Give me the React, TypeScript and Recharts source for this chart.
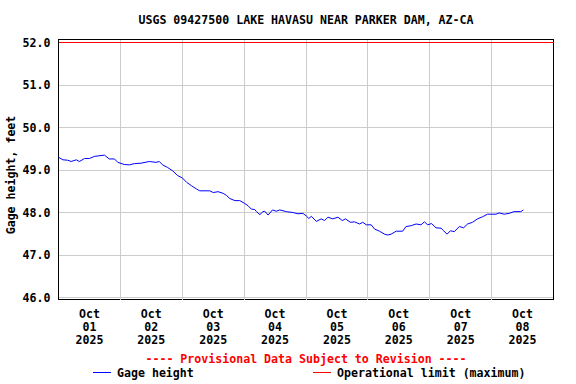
import React from 'react';
import {
  LineChart, Line, XAxis, YAxis, CartesianGrid, ReferenceLine, ReferenceArea, Legend, Label,
} from 'recharts';

const FONT = '"DejaVu Sans Mono", "Liberation Mono", monospace';

const TITLE = 'USGS 09427500 LAKE HAVASU NEAR PARKER DAM, AZ-CA';
const Y_LABEL = 'Gage height, feet';
const PROVISIONAL = '---- Provisional Data Subject to Revision ----';
const SERIES_NAME = 'Gage height';
const LIMIT_NAME = 'Operational limit (maximum)';

// hours since Oct 01 2025 00:00
const hours = [
  0, 1.7, 3.6, 4.9, 6.9, 8.1, 10.1, 12.0, 13.9, 17.8, 19.7, 21.7, 23.0, 25.5, 27.5, 29.4,
  32.0, 35.2, 37.8, 39.1, 40.4, 42.3, 44.3, 46.2, 48.1, 49.7, 51.6, 53.6, 54.8, 58.7, 60.0,
  61.9, 63.9, 65.2, 66.4, 68.4, 70.3, 72.3, 73.5, 74.8, 76.1, 76.8, 78.1, 79.3, 80.0, 81.3,
  83.0, 84.5, 85.8, 88.4, 90.9, 92.9, 94.8, 96.1, 97.1, 98.1, 100.0, 101.9, 103.2, 104.5,
  106.4, 108.4, 110.1, 111.3, 113.2, 114.8, 116.8, 118.0, 119.4, 121.3, 122.6, 124.5, 126.5,
  127.7, 129.0, 131.0, 133.5, 134.8, 136.8, 138.7, 140.6, 141.9, 143.2, 144.7, 146.4, 148.4,
  149.4, 150.7, 152.0, 153.5, 155.5, 157.1, 158.7, 160.6, 162.5, 164.5, 166.4, 167.7, 169.7,
  170.9, 172.9, 174.8, 176.7, 179.3, 180.3,
];

const gageHeight = [
  49.30, 49.24, 49.23, 49.20, 49.24, 49.20, 49.27, 49.27, 49.32, 49.35, 49.26, 49.26, 49.18,
  49.13, 49.12, 49.15, 49.16, 49.20, 49.18, 49.20, 49.12, 49.06, 48.98, 48.87, 48.81, 48.71,
  48.63, 48.55, 48.51, 48.51, 48.47, 48.49, 48.45, 48.40, 48.33, 48.28, 48.28, 48.21, 48.16,
  48.08, 48.07, 48.02, 47.95, 48.02, 48.03, 47.94, 48.06, 48.03, 48.06, 48.02, 48.00, 47.97,
  47.98, 47.92, 47.86, 47.91, 47.79, 47.85, 47.81, 47.89, 47.85, 47.89, 47.81, 47.85, 47.77,
  47.78, 47.73, 47.77, 47.71, 47.71, 47.61, 47.56, 47.49, 47.47, 47.49, 47.56, 47.56, 47.67,
  47.69, 47.73, 47.71, 47.78, 47.71, 47.74, 47.64, 47.63, 47.57, 47.49, 47.57, 47.55, 47.67,
  47.64, 47.73, 47.77, 47.85, 47.90, 47.96, 47.96, 47.96, 47.99, 47.96, 47.98, 48.02, 48.02,
  48.06,
];

const OPERATIONAL_LIMIT = 52.0;

const yTicks = [46, 47, 48, 49, 50, 51, 52];
const yDomain = [45.953, 52.0706];

const xDomain = [0, 192];
const xTicks = [12, 36, 60, 84, 108, 132, 156, 180];
const xTickMonth = ['Oct', 'Oct', 'Oct', 'Oct', 'Oct', 'Oct', 'Oct', 'Oct'];
const xTickDay = ['01', '02', '03', '04', '05', '06', '07', '08'];
const xTickYear = ['2025', '2025', '2025', '2025', '2025', '2025', '2025', '2025'];
const dayBoundaries = [24, 48, 72, 96, 120, 144, 168];

const data = hours.map((t, i) => ({ t, v: gageHeight[i] }));

const FS = 11.6;

const XTick = (props: any) => {
  const { x, y, payload } = props;
  const i = xTicks.indexOf(payload.value);
  return (
    <text x={x} y={y} textAnchor="middle" fontFamily={FONT} fontWeight="bold" fontSize={FS} fill="#000">
      <tspan x={x} dy={18}>{xTickMonth[i]}</tspan>
      <tspan x={x} dy={13}>{xTickDay[i]}</tspan>
      <tspan x={x} dy={13}>{xTickYear[i]}</tspan>
    </text>
  );
};

const YLabel = () => {
  const cx = 15;
  const cy = 175;
  return (
    <text
      x={cx}
      y={cy}
      textAnchor="middle"
      transform={`rotate(-90 ${cx} ${cy})`}
      fontFamily={FONT}
      fontWeight="bold"
      fontSize={FS}
      fill="#000"
    >
      {Y_LABEL}
    </text>
  );
};

const Key = ({ color }: { color: string }) => (
  <div style={{ width: 18, height: 1, marginTop: 6, marginRight: 6, background: color, flex: '0 0 auto' }} />
);

const LegendContent = () => (
  <div style={{ position: 'relative', width: 576, height: 30, fontFamily: FONT, fontWeight: 'bold', fontSize: FS, lineHeight: '14px' }}>
    <div style={{ position: 'absolute', left: 58, width: 496, top: 0, textAlign: 'center', color: '#ff0000', whiteSpace: 'pre' }}>
      {PROVISIONAL}
    </div>
    <div style={{ position: 'absolute', left: 93, top: 14, height: 14, whiteSpace: 'pre', color: '#000', display: 'flex', alignItems: 'flex-start' }}>
      <Key color="#0000ff" />
      <span>{SERIES_NAME}</span>
    </div>
    <div style={{ position: 'absolute', left: 313, top: 14, height: 14, whiteSpace: 'pre', color: '#000', display: 'flex', alignItems: 'flex-start' }}>
      <Key color="#ff0000" />
      <span>{LIMIT_NAME}</span>
    </div>
  </div>
);

export default function App() {
  return (
    <div style={{ position: 'absolute', left: 0, top: 0, width: 576, height: 384, background: '#fff' }}>
      <div
        style={{
          position: 'absolute', left: 58, width: 496, top: 13, textAlign: 'center',
          fontFamily: FONT, fontWeight: 'bold', fontSize: FS, lineHeight: '14px', color: '#000', whiteSpace: 'pre',
        }}
      >
        {TITLE}
      </div>
      <LineChart width={576} height={384} data={data} margin={{ top: 39.5, right: 22.5, bottom: 0, left: 0 }}>
        <CartesianGrid vertical={false} stroke="#cccccc" strokeWidth={1} shapeRendering="crispEdges" />
        {dayBoundaries.map((d) => (
          <ReferenceLine key={d} x={d} stroke="#cccccc" strokeWidth={1} shapeRendering="crispEdges" />
        ))}
        <XAxis
          type="number"
          dataKey="t"
          domain={xDomain}
          ticks={xTicks}
          allowDataOverflow
          height={84.5}
          tickSize={0}
          tickMargin={0}
          axisLine={false}
          tick={<XTick />}
          interval={0}
        />
        <YAxis
          type="number"
          domain={yDomain}
          ticks={yTicks}
          allowDataOverflow
          width={58.5}
          tickSize={0}
          tickMargin={8}
          axisLine={false}
          interval={0}
          tickFormatter={(v: number) => v.toFixed(1)}
          tick={{ fontFamily: FONT, fontWeight: 'bold', fontSize: FS, fill: '#000' }}
        >
          <Label content={<YLabel />} />
        </YAxis>
        <ReferenceArea
          x1={xDomain[0]}
          x2={xDomain[1]}
          y1={yDomain[0]}
          y2={yDomain[1]}
          fill="none"
          fillOpacity={0}
          stroke="#000"
          strokeWidth={1}
          shapeRendering="crispEdges"
        />
        <ReferenceLine y={OPERATIONAL_LIMIT} stroke="#ff0000" strokeWidth={1} shapeRendering="crispEdges" />
        <Line
          type="linear"
          dataKey="v"
          stroke="#0000ff"
          strokeWidth={1}
          dot={false}
          isAnimationActive={false}
        />
        <Legend
          verticalAlign="middle"
          align="center"
          layout="horizontal"
          wrapperStyle={{ position: 'absolute', left: 0, top: 352, width: 576 }}
          content={<LegendContent />}
        />
      </LineChart>
    </div>
  );
}
